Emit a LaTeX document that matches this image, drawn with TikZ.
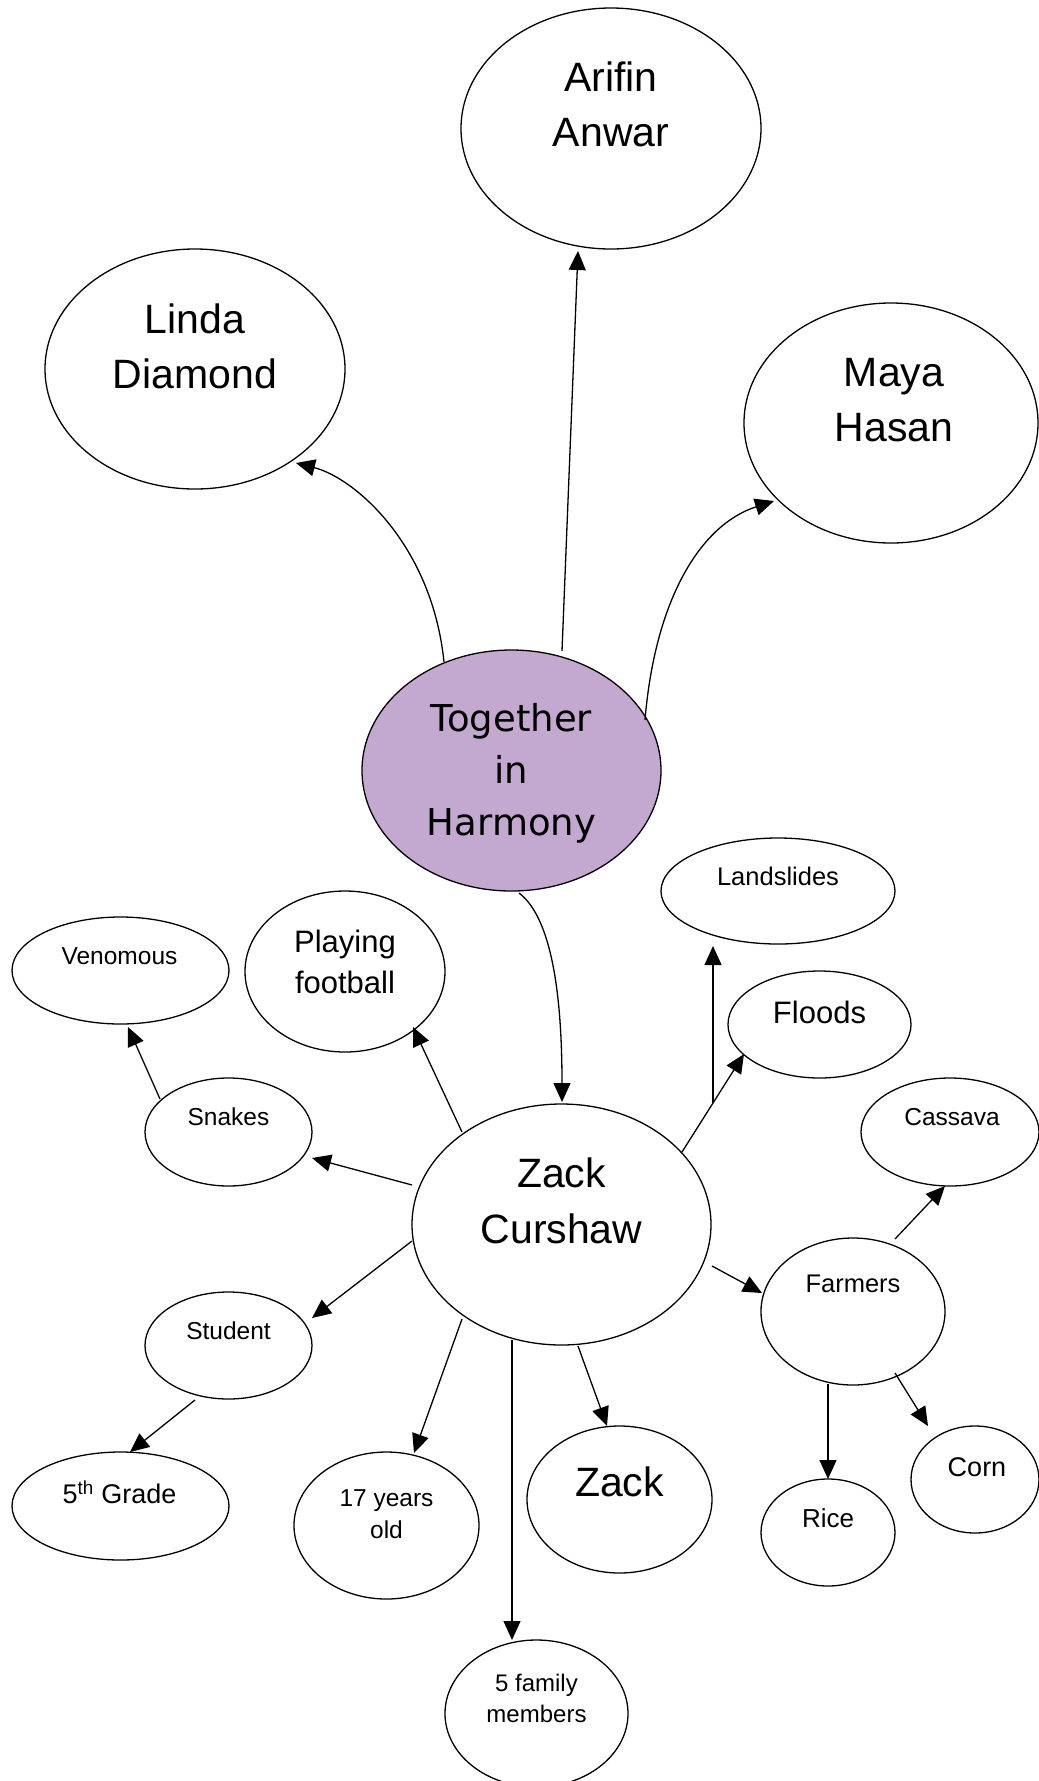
\documentclass[tikz,border=0pt]{standalone}
\usepackage{fontspec}
\setmainfont{Liberation Sans}
\newfontfamily\verdanafont{DejaVu Sans}
\usetikzlibrary{arrows.meta,shapes.geometric,calc}
\definecolor{harmony}{RGB}{195,169,207}
\begin{document}
\begin{tikzpicture}[x=1pt,y=-1pt,
  bub/.style={ellipse,draw,line width=1.3pt,inner sep=0pt,fill=white},
  txt/.style={anchor=base,align=center,inner sep=0pt},
  arr/.style={-{Triangle[length=19pt,width=17pt]},line width=1.3pt},
  big/.style={font=\fontsize{41}{55}\selectfont},
  mid/.style={font=\fontsize{31}{41}\selectfont},
  medium/.style={font=\fontsize{27}{33}\selectfont},
  small/.style={font=\fontsize{24.5}{32}\selectfont}]
\fill[white] (0,0) rectangle (1039,1781);
\useasboundingbox (0,0) rectangle (1039,1781);

% ellipses
\node[bub,minimum width=300pt,minimum height=241pt] (arifin) at (611,128.5) {};
\node[bub,minimum width=300pt,minimum height=240pt] (linda) at (195,369) {};
\node[bub,minimum width=294pt,minimum height=240pt] (maya) at (891,423) {};
\node[bub,fill=harmony,minimum width=299pt,minimum height=241pt] (tog) at (511.5,770.5) {};
\node[bub,minimum width=234pt,minimum height=106pt] (land) at (778,891) {};
\node[bub,minimum width=200pt,minimum height=161pt] (pf) at (345,971.5) {};
\node[bub,minimum width=217pt,minimum height=107pt] (ven) at (120.5,970.5) {};
\node[bub,minimum width=183pt,minimum height=107pt] (flood) at (819.5,1024.5) {};
\node[bub,minimum width=167pt,minimum height=108pt] (snake) at (228.5,1132) {};
\node[bub,minimum width=299pt,minimum height=241pt] (zc) at (561.5,1224.5) {};
\node[bub,minimum width=178pt,minimum height=108pt] (cass) at (950,1132) {};
\node[bub,minimum width=184pt,minimum height=147pt] (farm) at (853,1311.5) {};
\node[bub,minimum width=167pt,minimum height=107pt] (stud) at (228.5,1345.5) {};
\node[bub,minimum width=217pt,minimum height=108pt] (grade) at (120.5,1506) {};
\node[bub,minimum width=185pt,minimum height=147pt] (old) at (386.5,1525.5) {};
\node[bub,minimum width=185pt,minimum height=147pt] (zack) at (619.5,1499.5) {};
\node[bub,minimum width=128pt,minimum height=107pt] (corn) at (975,1479.5) {};
\node[bub,minimum width=134pt,minimum height=107pt] (rice) at (828,1532.5) {};
\node[bub,minimum width=183pt,minimum height=147pt] (fam) at (536.5,1713.5) {};

% texts (base anchor = baseline of the last line)
\node[txt,big] (arifinT) at ($(arifin)+(0,18.2)$) {Arifin\\Anwar};
\node[txt,big] (lindaT) at ($(linda)+(0,19.3)$) {Linda\\Diamond};
\node[txt,big] (mayaT) at ($(maya)+(3,18.7)$) {Maya\\Hasan};
\node[txt,font=\verdanafont\fontsize{37}{52}\selectfont] (togT) at ($(tog)+(0,64.5)$) {Together\\in\\Harmony};
\node[txt,font=\fontsize{25.5}{30}\selectfont] (landT) at ($(land)+(0,-6)$) {Landslides};
\node[txt,small] (venT) at ($(ven)+(-1,-6.5)$) {Venomous};
\node[txt,mid] (pfT) at ($(pf)+(0,21.8)$) {Playing\\football};
\node[txt,small] (snakeT) at ($(snake)+(0,-6.3)$) {Snakes};
\node[txt,small] (studT) at ($(stud)+(0,-6.5)$) {Student};
\node[txt,mid] (floodT) at ($(flood)+(0,-1.2)$) {Floods};
\node[txt,small] (cassT) at ($(cass)+(2,-6.3)$) {Cassava};
\node[txt,font=\fontsize{41}{56}\selectfont] (zcT) at ($(zc)+(0,18.8)$) {Zack\\Curshaw};
\node[txt,font=\fontsize{25.5}{30}\selectfont] (farmT) at ($(farm)+(0,-19.2)$) {Farmers};
\node[txt,medium] (gradeT) at ($(grade)+(-1,-2.7)$) {5\textsuperscript{th} Grade};
\node[txt,font=\fontsize{24.5}{32.7}\selectfont] (oldT) at ($(old)+(0,13.2)$) {17 years\\old};
\node[txt,font=\fontsize{24}{31.7}\selectfont] (famT) at ($(fam)+(0,9.2)$) {5 family\\members};
\node[txt,big] (zackT) at ($(zack)+(0,-3.5)$) {Zack};
\node[txt,font=\fontsize{26}{30}\selectfont] (riceT) at ($(rice)+(0,-4.8)$) {Rice};
\node[txt,medium] (cornT) at ($(corn)+(2,-3.5)$) {Corn};

% connectors
\draw[arr] ($(tog)+(-67.5,-108.5)$) .. controls ($(tog)+(-79.5,-225.5)$) and ($(linda)+(160,109)$) .. ($(linda)+(101,94)$);
\draw[arr] ($(tog)+(50.5,-119.5)$) -- ($(arifin)+(-33,122.5)$);
\draw[arr] ($(tog)+(133.5,-50.5)$) .. controls ($(tog)+(143.5,-170.5)$) and ($(maya)+(-191,102)$) .. ($(maya)+(-117,78)$);
\draw[arr] ($(tog)+(7.5,122.5)$) .. controls ($(tog)+(36.5,144.5)$) and ($(zc)+(0.5,-244.5)$) .. ($(zc)+(0.5,-122.5)$);

\draw[arr] ($(zc)+(-99.5,-92.5)$) -- ($(pf)+(68,55.5)$);
\draw[arr] ($(snake)+(-68.5,-33)$) -- ($(ven)+(7.5,56.5)$);
\draw[arr] ($(zc)+(-149.5,-39.5)$) -- ($(snake)+(83.5,26)$);
\draw[arr] ($(zc)+(-149.5,16.5)$) -- ($(stud)+(83.5,-27.5)$);
\draw[arr] ($(stud)+(-33.5,54.5)$) -- ($(grade)+(9.5,-54)$);
\draw[arr] ($(zc)+(-99.5,94.5)$) -- ($(old)+(27.5,-72.5)$);
\draw[arr] ($(zc)+(-49.5,115.5)$) -- ($(fam)+(-24.5,-73.5)$);
\draw[arr] ($(zc)+(16.5,121.5)$) -- ($(zack)+(-12.5,-73.5)$);

\coordinate (zcF) at ($(zc)+(120.5,-72.5)$);
\coordinate (flT) at ($(flood)+(-75.5,29.5)$);
\draw[arr] (zcF) -- (flT);
\coordinate (lsfoot) at ($(zcF)!0.5!(flT)$);
\coordinate (landTip) at ($(land)+(-66,55)$);
\draw[arr] (lsfoot) -- (lsfoot |- landTip);

\draw[arr] ($(zc)+(150.5,41.5)$) -- ($(farm)+(-91,-18.5)$);
\draw[arr] ($(farm)+(42,-72.5)$) -- ($(cass)+(-5,54)$);
\draw[arr] ($(farm)+(-25,72.5)$) -- ($(rice)+(0,-53.5)$);
\draw[arr] ($(farm)+(42,61.5)$) -- ($(corn)+(-47,-53.5)$);
\end{tikzpicture}
\end{document}
